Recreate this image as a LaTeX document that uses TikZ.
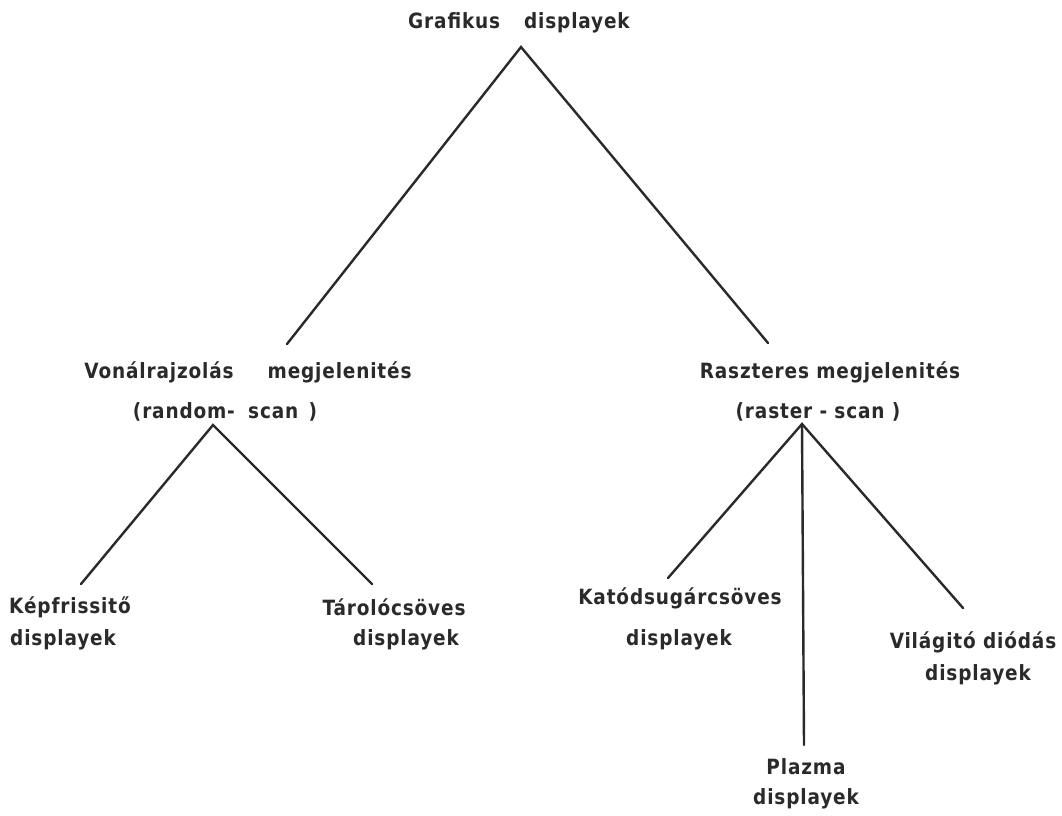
\documentclass[tikz,border=0pt]{standalone}
\usepackage{fontspec}
\setmainfont{DejaVu Sans}[LetterSpace=4, FakeStretch=0.88]
\begin{document}
\begin{tikzpicture}[x=1pt,y=-1pt,
  lbl/.style={inner sep=0pt, font=\fontsize{21}{21}\selectfont\bfseries, text=ink, anchor=center},
  branch/.style={draw=ink, line width=2.4pt, line cap=round}]
\definecolor{ink}{HTML}{2A2A2A}
\useasboundingbox (0,0) rectangle (1062,815);

% labels
\node[lbl] (root) at (519,23) {Grafikus\hspace{24pt}displayek};
\node[lbl] (vec1) at (248,372) {Vonálrajzolás\hspace{34pt}megjelenités};
\node[lbl] (vec2) at (225,412) {(random-\hspace{6pt} scan\hspace{3pt} )};
\node[lbl] (ras1) at (830,372) {Raszteres megjelenités};
\node[lbl] (ras2) at (818,412) {(raster - scan )};
\node[lbl] (kep1) at (70,607) {Képfrissitő};
\node[lbl] (kep2) at (63,640) {displayek};
\node[lbl] (tar1) at (394,607) {Tárolócsöves};
\node[lbl] (tar2) at (406,640) {displayek};
\node[lbl] (kat1) at (680,598) {Katódsugárcsöves};
\node[lbl] (kat2) at (679,640) {displayek};
\node[lbl] (vil1) at (973,642) {Világitó diódás};
\node[lbl] (vil2) at (978,675) {displayek};
\node[lbl] (pla1) at (806,767) {Plazma};
\node[lbl] (pla2) at (806,799) {displayek};

% branching points and line ends
\coordinate (rootTip) at (521,47);
\coordinate (vecTop) at (287,344);
\coordinate (rasTop) at (768,343);
\coordinate (vecTip) at (213,425);
\coordinate (kepTop) at (81,584);
\coordinate (tarTop) at (372,584);
\coordinate (rasTip) at (802,424);
\coordinate (katTop) at (668,578);
\coordinate (plaTop) at (804,745);
\coordinate (vilTop) at (963,608);

% connectors
\draw[branch] (vecTop) -- (rootTip) -- (rasTop);
\draw[branch] (kepTop) -- (vecTip) -- (tarTop);
\draw[branch] (katTop) -- (rasTip) -- (vilTop);
\draw[branch] (rasTip) -- (plaTop);
\end{tikzpicture}
\end{document}
